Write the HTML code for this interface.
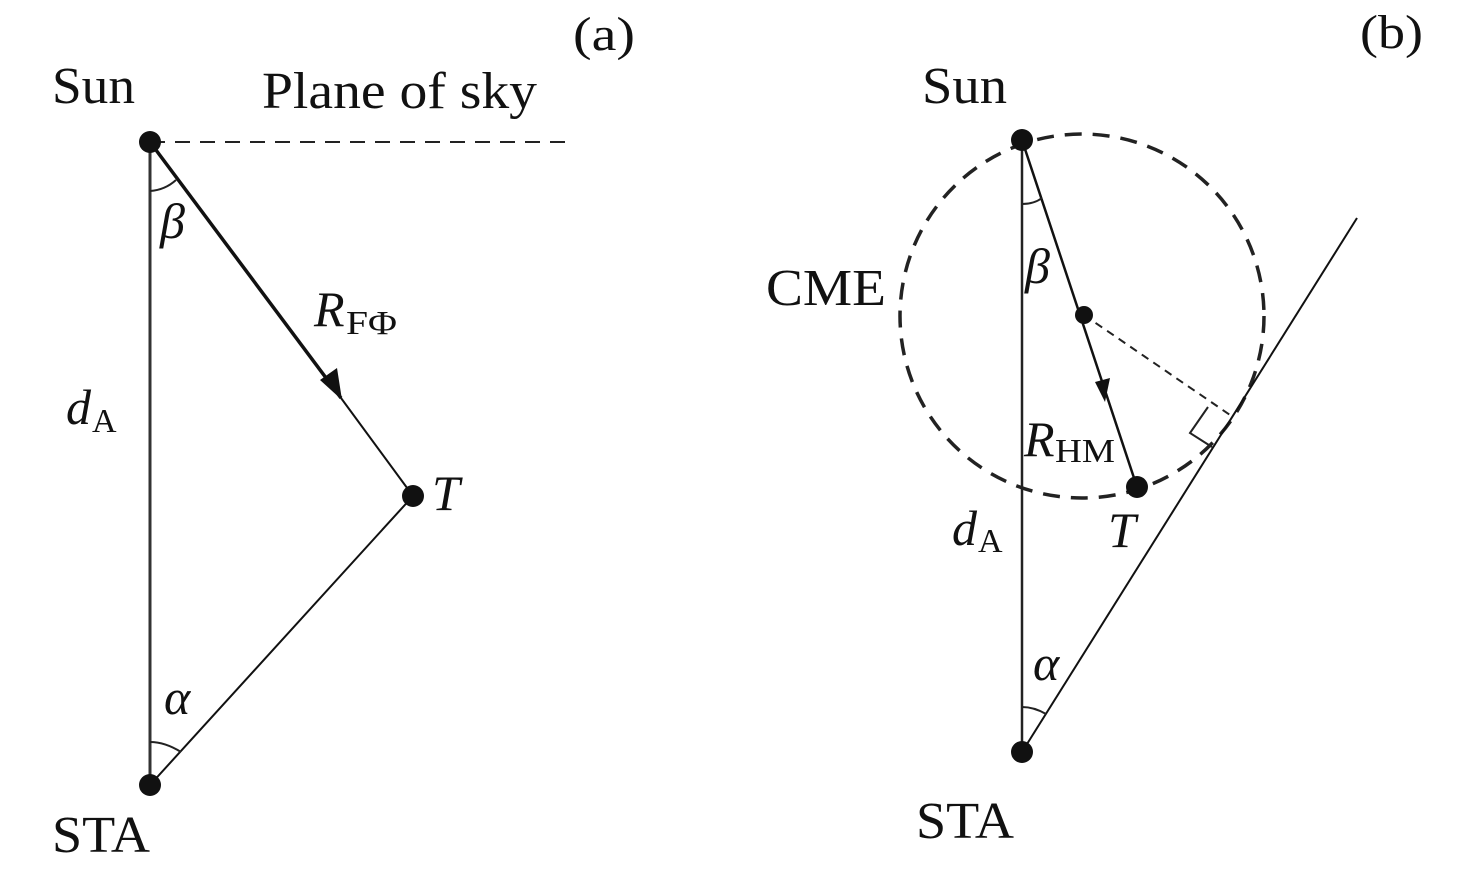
<!DOCTYPE html>
<html><head><style>
html,body{margin:0;padding:0;background:#fff;}
svg{display:block;}
text{font-family:"Liberation Serif",serif;fill:#111;}
</style></head><body>
<svg width="1476" height="870" viewBox="0 0 1476 870" xmlns="http://www.w3.org/2000/svg">
<!-- Panel (a) -->
<text x="573" y="50" font-size="48" textLength="62" lengthAdjust="spacingAndGlyphs">(a)</text>
<text x="52" y="103" font-size="52" textLength="83" lengthAdjust="spacingAndGlyphs">Sun</text>
<text x="262" y="108" font-size="52" textLength="275" lengthAdjust="spacingAndGlyphs">Plane of sky</text>
<line x1="150" y1="142" x2="575" y2="142" stroke="#222" stroke-width="2" stroke-dasharray="15,10"/>
<line x1="150" y1="142" x2="150" y2="785" stroke="#333" stroke-width="3"/>
<line x1="150" y1="142" x2="341" y2="398" stroke="#111" stroke-width="3.5"/>
<line x1="341" y1="398" x2="413" y2="496" stroke="#111" stroke-width="2"/>
<polygon points="342,400 320,380 337,368" fill="#111"/>
<line x1="413" y1="496" x2="150" y2="785" stroke="#111" stroke-width="2"/>
<path d="M150,191 Q165,190 176,180" fill="none" stroke="#222" stroke-width="2"/>
<path d="M150,742 Q165,742 181,752" fill="none" stroke="#222" stroke-width="2"/>
<circle cx="150" cy="142" r="11" fill="#111"/>
<circle cx="413" cy="496" r="11" fill="#111"/>
<circle cx="150" cy="785" r="11" fill="#111"/>
<text x="160" y="238" font-size="50" font-style="italic">β</text>
<text x="314" y="326" font-size="50" font-style="italic">R</text>
<text x="346" y="334" font-size="34" textLength="51" lengthAdjust="spacingAndGlyphs">FΦ</text>
<text x="66" y="424" font-size="50" font-style="italic">d</text>
<text x="92" y="432" font-size="34">A</text>
<text x="432" y="510" font-size="50" font-style="italic">T</text>
<text x="164" y="714" font-size="50" font-style="italic">α</text>
<text x="52" y="852" font-size="52" textLength="98" lengthAdjust="spacingAndGlyphs">STA</text>
<!-- Panel (b) -->
<text x="1360" y="48" font-size="48" textLength="63" lengthAdjust="spacingAndGlyphs">(b)</text>
<text x="922" y="103" font-size="52" textLength="85" lengthAdjust="spacingAndGlyphs">Sun</text>
<circle cx="1082" cy="316" r="182" fill="none" stroke="#222" stroke-width="3.5" stroke-dasharray="17,11"/>
<line x1="1022" y1="140" x2="1022" y2="752" stroke="#222" stroke-width="2.5"/>
<line x1="1022" y1="140" x2="1137" y2="487" stroke="#111" stroke-width="2.5"/>
<polygon points="1105,402 1095,382 1110,378" fill="#111"/>
<line x1="1022" y1="752" x2="1357" y2="218" stroke="#111" stroke-width="2"/>
<line x1="1084" y1="315" x2="1233" y2="417" stroke="#222" stroke-width="2" stroke-dasharray="8,6"/>
<polyline points="1208,407 1190,433 1212,447" fill="none" stroke="#222" stroke-width="2"/>
<path d="M1022,204 Q1034,204 1042,198" fill="none" stroke="#222" stroke-width="2"/>
<path d="M1022,707 Q1034,707 1046,714" fill="none" stroke="#222" stroke-width="2"/>
<circle cx="1022" cy="140" r="11" fill="#111"/>
<circle cx="1084" cy="315" r="9" fill="#111"/>
<circle cx="1137" cy="487" r="11" fill="#111"/>
<circle cx="1022" cy="752" r="11" fill="#111"/>
<text x="766" y="305" font-size="52" textLength="120" lengthAdjust="spacingAndGlyphs">CME</text>
<text x="1025" y="283" font-size="50" font-style="italic">β</text>
<text x="1024" y="456" font-size="50" font-style="italic">R</text>
<text x="1055" y="462" font-size="34" textLength="60" lengthAdjust="spacingAndGlyphs">HM</text>
<text x="952" y="545" font-size="50" font-style="italic">d</text>
<text x="978" y="552" font-size="34">A</text>
<text x="1108" y="547" font-size="50" font-style="italic">T</text>
<text x="1033" y="680" font-size="50" font-style="italic">α</text>
<text x="916" y="838" font-size="52" textLength="98" lengthAdjust="spacingAndGlyphs">STA</text>
</svg>
</body></html>
